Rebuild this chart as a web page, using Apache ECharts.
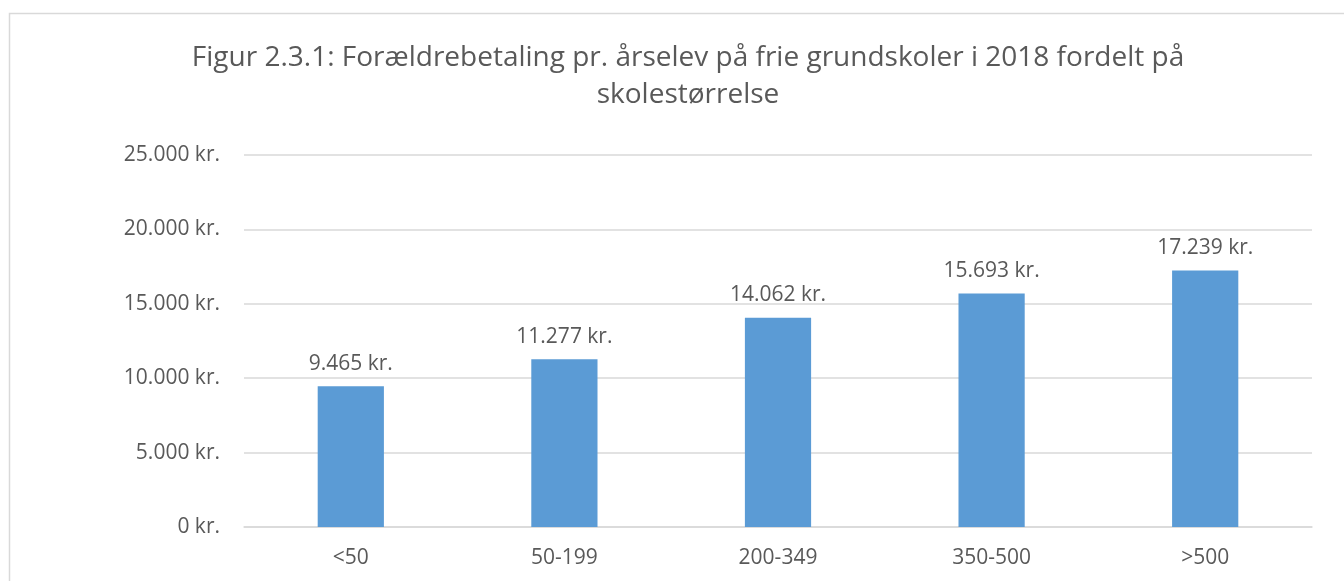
<!DOCTYPE html>
<html>
<head>
<meta charset="utf-8">
<script src="https://cdn.jsdelivr.net/npm/echarts@6/dist/echarts.min.js"></script>
<style>
	html, body { margin: 0; padding: 0; background: #fff; }
	#chart { width: 1344px; height: 581px; }
</style>
</head>
<body>
<div id="chart"></div>
<script>
var categories = [ '<50', '50-199', '200-349', '350-500', '>500' ];
var values = [ 9465, 11277, 14062, 15693, 17239 ];
var titleText = 'Figur 2.3.1: Forældrebetaling pr. årselev på frie grundskoler i 2018 fordelt på\nskolestørrelse';
var textColor = '#595959';
var barColor = '#5B9BD5';
var fontName = '"Open Sans", Lato, sans-serif';

function fmtKr(v) {
	// danish thousands separator
	return String(v).replace(/\B(?=(\d{3})+(?!\d))/g, '.') + ' kr.';
}

var graph = echarts.init(document.getElementById('chart'));

var option = {
	animation : false,
	textStyle : { fontFamily : fontName },
	title : {
		text : titleText,
		left : 683,
		textAlign : 'center',
		top : 35,
		textStyle : {
			color : textColor,
			fontSize : 28,
			fontWeight : 'normal',
			lineHeight : 37,
			fontFamily : fontName
		}
	},
	graphic : [ {
		type : 'rect',
		shape : { x : 9.5, y : 13.5, width : 1400, height : 700 },
		style : { fill : 'none', stroke : '#d9d9d9', lineWidth : 1.5 },
		silent : true
	} ],
	grid : {
		left : 244,
		right : 32,
		top : 155,
		bottom : 54
	},
	xAxis : {
		type : 'category',
		data : categories,
		axisTick : { show : false },
		axisLine : { lineStyle : { color : '#d9d9d9', width : 1.5 } },
		axisLabel : {
			color : textColor,
			fontSize : 21,
			margin : 21,
			fontFamily : fontName
		}
	},
	yAxis : {
		type : 'value',
		min : 0,
		max : 25000,
		interval : 5000,
		axisLine : { show : false },
		axisTick : { show : false },
		splitLine : { lineStyle : { color : '#d9d9d9', width : 1.5 } },
		axisLabel : {
			color : textColor,
			fontSize : 21,
			margin : 24,
			fontFamily : fontName,
			formatter : fmtKr
		}
	},
	series : [ {
		type : 'bar',
		data : values,
		barWidth : '31%',
		itemStyle : { color : barColor },
		label : {
			show : true,
			position : 'top',
			distance : 12,
			color : textColor,
			fontSize : 21,
			fontFamily : fontName,
			formatter : function(p) {
				return fmtKr(p.value);
			}
		}
	} ]
};

graph.setOption(option);
</script>
</body>
</html>
